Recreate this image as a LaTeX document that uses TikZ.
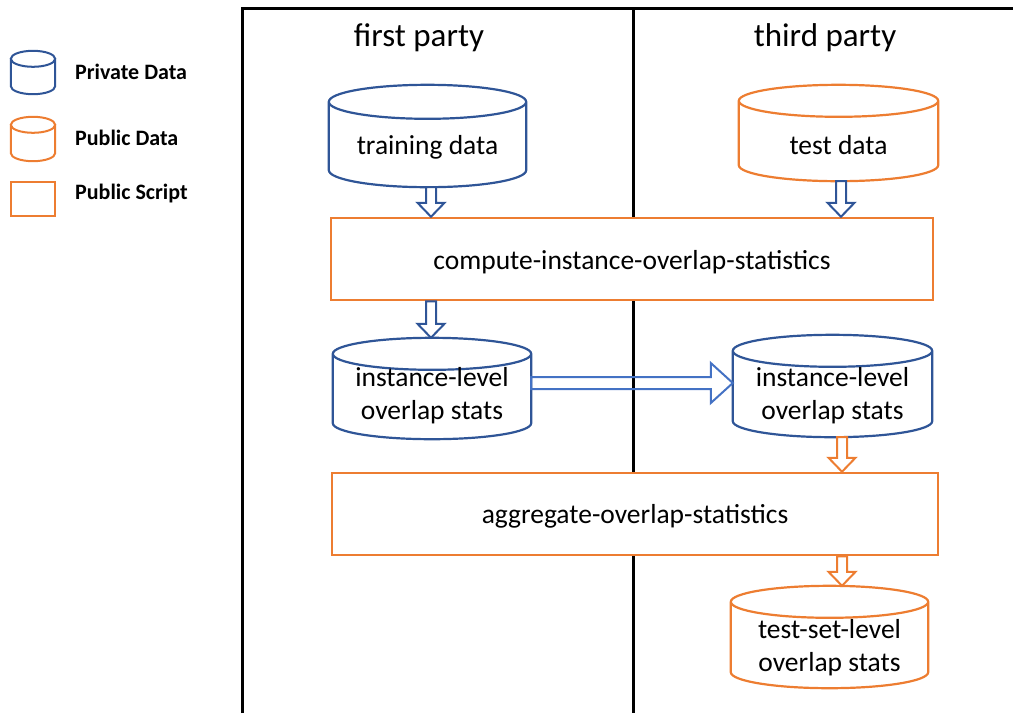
\documentclass[tikz,border=0pt]{standalone}
\usepackage{fontspec}
\setmainfont{Carlito}
\usetikzlibrary{calc}
\definecolor{pblue}{HTML}{2F5597}
\definecolor{lblue}{HTML}{4472C4}
\definecolor{porange}{HTML}{ED7D31}

\newcommand\drawcyl[4]{% node, color, ry, line width
  \draw[#2, line width=#4, fill=white] let \p1=(#1.north west), \p2=(#1.south east), \n1={(\x2-\x1)/2} in
    (\x1,{\y1-#3}) -- (\x1,{\y2+#3}) arc[start angle=180, end angle=360, x radius=\n1, y radius=#3] -- (\x2,{\y1-#3})
    arc[start angle=0, end angle=180, x radius=\n1, y radius=#3] -- cycle
    ({\x1+\n1},{\y1-#3}) ellipse [x radius=\n1, y radius=#3];
}
\newcommand\blockdown[3]{% from, to, color
  \draw[#3, line width=2pt, fill=white] let \p1=(#1), \p2=(#2) in
    ({\x1-5pt},\y1) -- ({\x1-5pt},{\y2+14pt}) -- ({\x1-13.5pt},{\y2+14pt}) -- (\x1,\y2)
    -- ({\x1+13.5pt},{\y2+14pt}) -- ({\x1+5pt},{\y2+14pt}) -- ({\x1+5pt},\y1) -- cycle;
}
\newcommand\blockright[3]{% from, to, color
  \draw[#3, line width=2pt] let \p1=(#1), \p2=(#2) in
    (\x1,{\y1+6pt}) -- ({\x2-22pt},{\y1+6pt}) -- ({\x2-22pt},{\y1+20pt}) -- (\x2,\y1)
    -- ({\x2-22pt},{\y1-20pt}) -- ({\x2-22pt},{\y1-6pt}) -- (\x1,{\y1-6pt}) -- cycle;
}

\tikzset{
  lbl/.style={font=\fontsize{27.5}{33}\selectfont, align=center, inner sep=0pt},
  ttl/.style={font=\fontsize{33}{40}\selectfont, inner sep=0pt},
  leg/.style={font=\fontsize{22}{26}\selectfont\bfseries, inner sep=0pt, anchor=west},
  cylbox/.style 2 args={shape=rectangle, inner sep=0pt, minimum width=#1, minimum height=#2},
  scriptbox/.style 2 args={shape=rectangle, draw=porange, fill=white, line width=2.5pt, inner sep=0pt, minimum width=#1, minimum height=#2},
  frame/.style={line width=3pt, black}
}

\begin{document}
\begin{tikzpicture}[x=1pt, y=-1pt]
\useasboundingbox (0,0) rectangle (1013,713);

% frame
\draw[frame] (242,713) -- (242,8) -- (1013,8);
\draw[frame] (633,8) -- (633,713);

% titles
\node[ttl] (t1) at (419,38) {first party};
\node[ttl] (t2) at (825,38) {third party};

% legend
\node[cylbox={44pt}{43pt}] (lpriv) at (33,72.5) {};
\drawcyl{lpriv}{pblue}{8pt}{2pt}
\node[leg] (lprivt) at (75,72) {Private Data};
\node[cylbox={44pt}{44pt}] (lpub) at (33,139) {};
\drawcyl{lpub}{porange}{8pt}{2pt}
\node[leg] (lpubt) at (75,138) {Public Data};
\node[scriptbox={44pt}{34pt}, line width=2pt] (lscr) at (33,199) {};
\node[leg] (lscrt) at (75,194) {Public Script};

% cylinders
\node[cylbox={197pt}{102pt}] (td) at (427.5,136) {};
\drawcyl{td}{pblue}{17pt}{2.2pt}
\node[lbl] (tdt) at (427.5,147) {training data};

\node[cylbox={199pt}{96pt}] (tsd) at (838.5,133) {};
\drawcyl{tsd}{porange}{16pt}{2.2pt}
\node[lbl] (tsdt) at (838.5,145) {test data};

\node[cylbox={198pt}{101pt}] (li) at (432,388.5) {};
\drawcyl{li}{pblue}{16pt}{2.2pt}
\node[lbl] (lit) at (432,396) {instance-level\\overlap stats};

\node[cylbox={199pt}{102pt}] (ri) at (832.5,386) {};
\drawcyl{ri}{pblue}{16pt}{2.2pt}
\node[lbl] (rit) at (832.5,396) {instance-level\\overlap stats};

\node[cylbox={197pt}{102pt}] (tsl) at (829.5,637) {};
\drawcyl{tsl}{porange}{16pt}{2.2pt}
\node[lbl] (tslt) at (829.5,648) {test-set-level\\overlap stats};

% scripts
\node[scriptbox={602pt}{82pt}] (comp) at (632,259) {};
\node[lbl] (compt) at (632,262) {compute-instance-overlap-statistics};
\node[scriptbox={606pt}{82pt}] (agg) at (635,514) {};
\node[lbl] (aggt) at (635,516) {aggregate-overlap-statistics};

% arrows
\blockdown{[xshift=3.5pt]td.south}{[xshift=3.5pt]td.south |- comp.north}{pblue}
\blockdown{[xshift=2.5pt]tsd.south}{[xshift=2.5pt]tsd.south |- comp.north}{pblue}
\blockdown{[xshift=-1pt]li.north |- comp.south}{[xshift=-1pt]li.north}{pblue}
\blockright{[yshift=5.5pt]li.east}{ri.west}{lblue}
\blockdown{[xshift=9.5pt]ri.south}{[xshift=9.5pt]ri.south |- agg.north}{porange}
\blockdown{[xshift=12.5pt]tsl.north |- agg.south}{[xshift=12.5pt]tsl.north}{porange}
\end{tikzpicture}
\end{document}
